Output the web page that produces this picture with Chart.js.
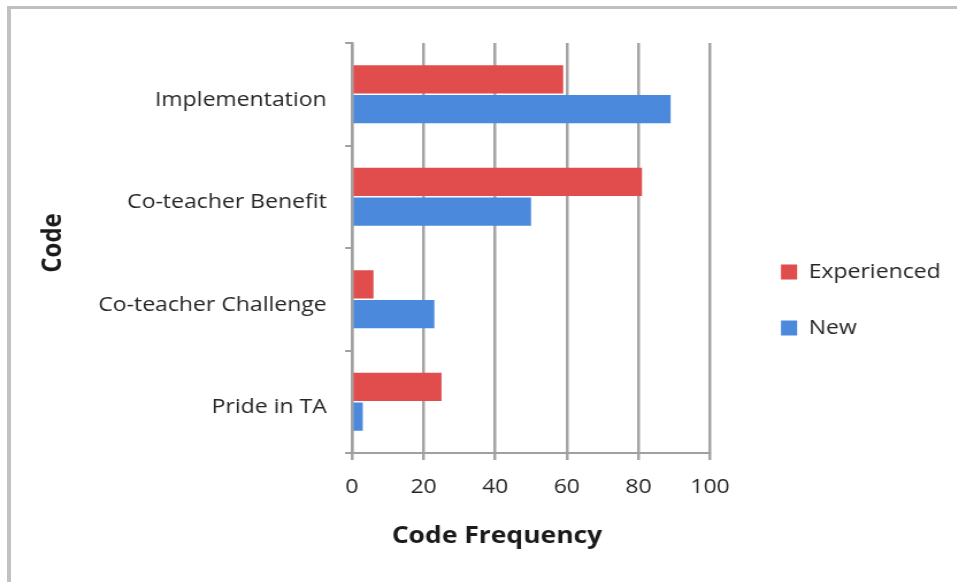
<!DOCTYPE html>
<html>
<head>
<meta charset="utf-8">
<script src="https://cdn.jsdelivr.net/npm/chart.js@4.4.1/dist/chart.umd.min.js"></script>
<style>
  html, body { margin: 0; padding: 0; background: #fff; overflow: hidden; }
  #frame { position: absolute; left: 7px; top: 6px; width: 1000px; height: 700px;
           border-top: 3px solid #bfbfbf; border-left: 4px solid #c2c2c2; }
  #wrap { position: absolute; left: 0; top: 0; height: 582px; transform-origin: 0 0; }
</style>
</head>
<body>
<div id="frame"></div>
<div id="wrap"><canvas id="codeChart"></canvas></div>
<script>
// data
const categories = ['Implementation', 'Co-teacher Benefit', 'Co-teacher Challenge', 'Pride in TA'];
const seriesNames = ['Experienced', 'New'];
const experienced = [59, 81, 6, 25];
const newTeachers = [89, 50, 23, 3];
const xTicks = [0, 20, 40, 60, 80, 100];

// the original picture is stretched sideways, so the canvas is too
const SX = 1.15;
const wrap = document.getElementById('wrap');
wrap.style.width = (957 / SX) + 'px';
wrap.style.transform = 'scaleX(' + SX + ')';

const FONT = '"Open Sans", "Liberation Sans", sans-serif';
const PAD_BOTTOM = 25;

// put the legend where the original has it
const legendPlace = {
    id: 'legendPlace',
    afterLayout(chart) {
        const lg = chart.legend;
        const w = lg.right - lg.left;
        lg.left = 781 / SX - lg.options.labels.padding;
        lg.right = lg.left + w;
    }
};

// axis titles sit off-centre in the original
const axisTitles = {
    id: 'axisTitles',
    afterDraw(chart) {
        const ctx = chart.ctx;
        ctx.save();
        ctx.fillStyle = '#1a1a1a';
        ctx.textAlign = 'center';
        ctx.textBaseline = 'middle';
        ctx.font = 'bold 23px ' + FONT;
        ctx.fillText('Code Frequency', 497 / SX, 536);
        ctx.translate(53 / SX, 243);
        ctx.rotate(-Math.PI / 2);
        ctx.font = 'bold 24px ' + FONT;
        ctx.fillText('Code', 0, 0);
        ctx.restore();
    }
};

new Chart(document.getElementById('codeChart'), {
    type: 'bar',
    data: {
        labels: categories,
        datasets: [{
            label: seriesNames[0],
            data: experienced,
            backgroundColor: '#e14c4c'
        }, {
            label: seriesNames[1],
            data: newTeachers,
            backgroundColor: '#4a89dc'
        }]
    },
    options: {
        indexAxis: 'y',
        responsive: true,
        maintainAspectRatio: false,
        animation: false,
        barPercentage: 0.95,
        categoryPercentage: 0.58,
        layout: { padding: { top: 43, left: 0, right: 30, bottom: PAD_BOTTOM } },
        plugins: {
            tooltip: { enabled: false },
            legend: {
                position: 'right',
                align: 'center',
                labels: {
                    boxWidth: 14,
                    boxHeight: 15,
                    padding: 36,
                    color: '#262626',
                    font: { family: FONT, size: 20 }
                }
            }
        },
        scales: {
            x: {
                min: xTicks[0],
                max: xTicks[xTicks.length - 1],
                ticks: {
                    stepSize: xTicks[1] - xTicks[0],
                    color: '#262626',
                    padding: 15,
                    font: { family: FONT, size: 20 }
                },
                grid: { color: '#a4a4a4', lineWidth: 2.5, tickLength: 7 },
                border: { color: '#a0a0a0', width: 2 },
                afterFit(scale) { scale.height = 582 - PAD_BOTTOM - 453; }
            },
            y: {
                ticks: {
                    color: '#262626',
                    padding: 16,
                    labelOffset: 6,
                    font: { family: FONT, size: 20 }
                },
                grid: { offset: true, drawOnChartArea: false, color: '#a0a0a0', lineWidth: 2, tickLength: 6 },
                border: { color: '#a0a0a0', width: 2.4 },
                afterFit(scale) { scale.width = 352 / SX; }
            }
        }
    },
    plugins: [legendPlace, axisTitles]
});
</script>
</body>
</html>
